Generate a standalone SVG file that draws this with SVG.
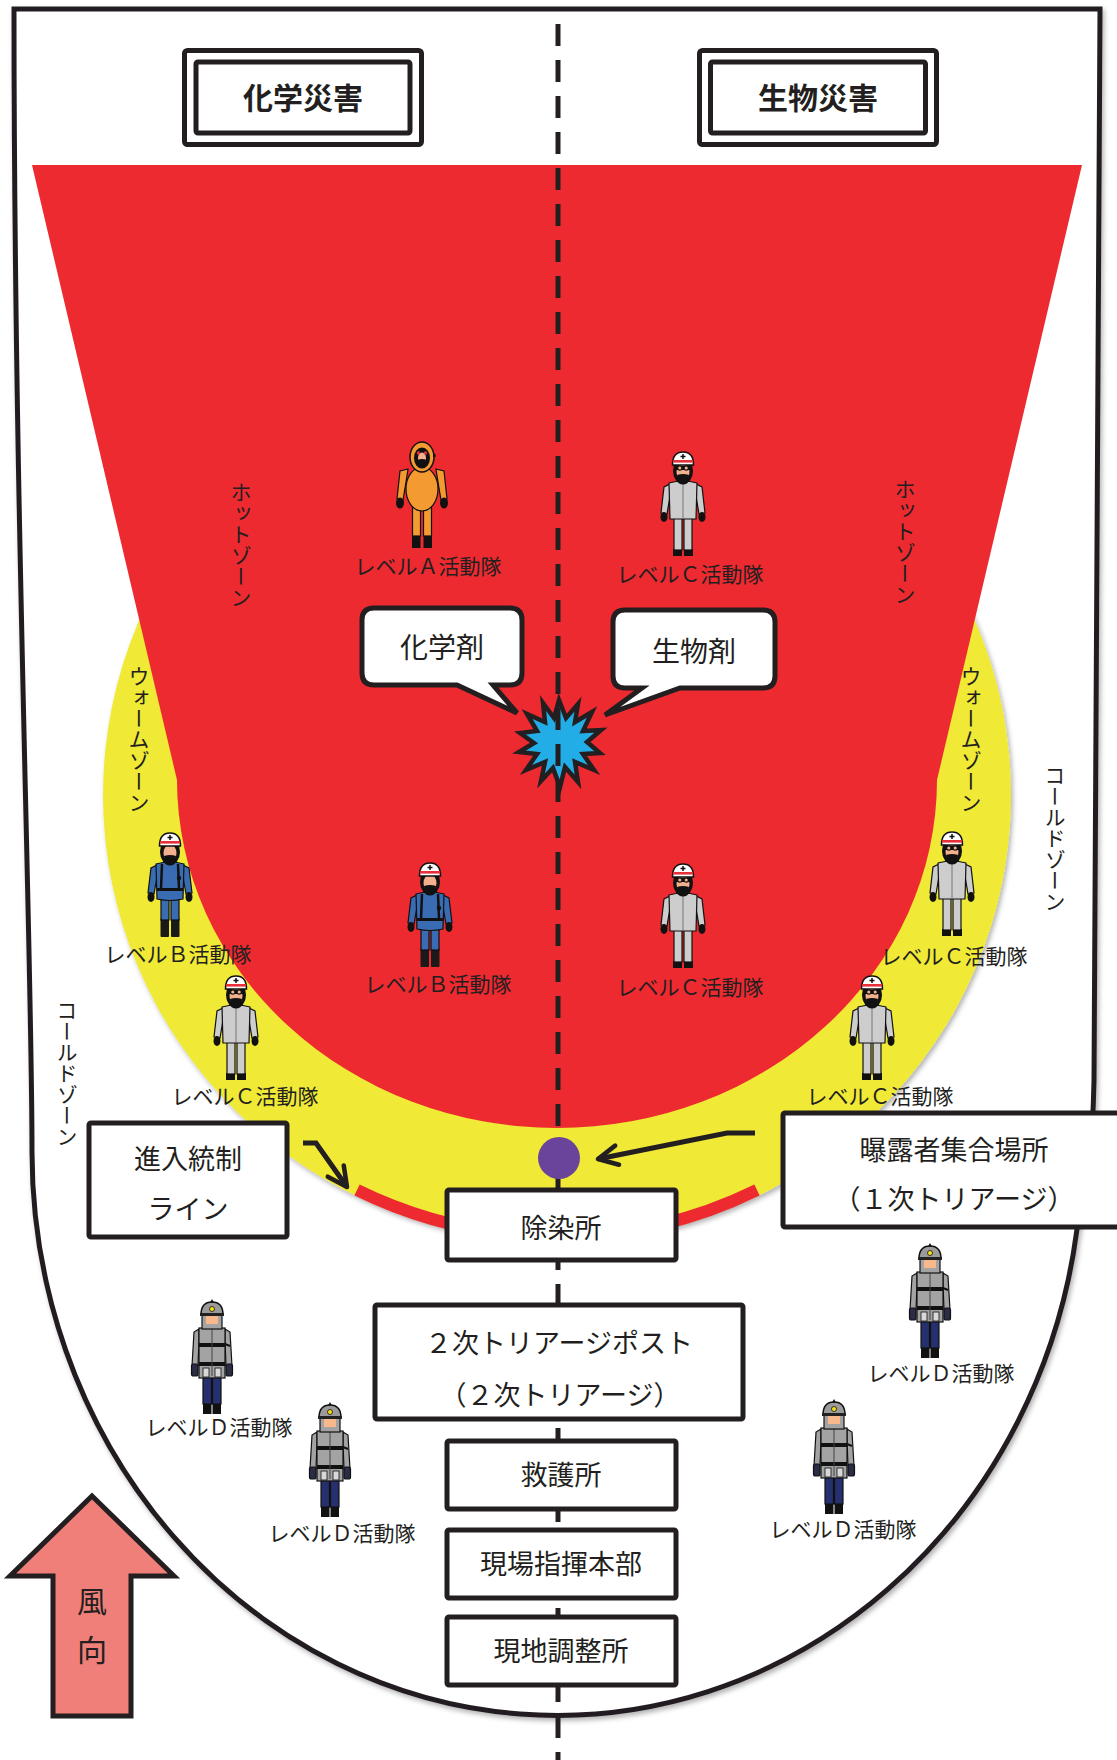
<svg xmlns="http://www.w3.org/2000/svg" xmlns:xlink="http://www.w3.org/1999/xlink" width="1117" height="1760" viewBox="0 0 1117 1760">
  <style>
    .ink { fill: none; stroke: #231f20; stroke-width: 5; }
    .box { fill: #ffffff; stroke: #231f20; stroke-width: 5; }
    .jp { font-family: "Noto Sans CJK JP", "Liberation Sans", sans-serif; fill: #231f20; }
    .boxtxt { font-size: 27px; text-anchor: middle; }
    .title { font-size: 30px; font-weight: 700; text-anchor: middle; }
    .lbl { font-size: 21px; text-anchor: middle; }
    .zone { font-size: 21px; writing-mode: vertical-rl; }
    .callout { font-size: 28px; text-anchor: middle; }
    .ol { stroke: #111111; stroke-width: 1.2; }
  </style>
  <defs>
    <filter id="soft" x="-5%" y="-5%" width="110%" height="110%">
      <feDropShadow dx="2" dy="3" stdDeviation="2.5" flood-color="#000000" flood-opacity="0.3"/>
    </filter>
    <marker id="chev" viewBox="0 0 24 24" refX="21" refY="12" markerWidth="26" markerHeight="26" markerUnits="userSpaceOnUse" orient="auto">
      <path d="M3,3 L21,12 L3,21" fill="none" stroke="#231f20" stroke-width="4.2" stroke-linecap="round" stroke-linejoin="round"/>
    </marker>

    <!-- helmeted head with respirator, used by level B and C crews -->
    <g id="headR">
      <ellipse cx="0" cy="19" rx="10" ry="13" fill="#111"/>
      <ellipse cx="0" cy="20" rx="6.5" ry="8.5" fill="#f2b08c"/>
      <path d="M-6,23 Q0,21 6,23 L4.5,31 Q0,34 -4.5,31 Z" fill="#111"/>
      <path d="M-10.5,13 Q-10.5,0 0,0 Q10.5,0 10.5,13 Z" fill="#fff" stroke="#111" stroke-width="1.5"/>
      <rect x="-10" y="8" width="20" height="2.6" fill="#e8303a"/>
      <path d="M0,2 V7 M-2.5,4.5 H2.5" stroke="#111" stroke-width="1.5"/>
    </g>

    <!-- level A: encapsulated orange suit -->
    <g id="figA">
      <rect x="-10" y="92" width="8.5" height="14" fill="#111"/>
      <rect x="1.5" y="92" width="8.5" height="14" fill="#111"/>
      <rect x="-9.5" y="64" width="8" height="30" fill="#f39a31" class="ol"/>
      <rect x="1.5" y="64" width="8" height="30" fill="#f39a31" class="ol"/>
      <path d="M-14,27 L-22,29 L-25,57 L-19,58 L-16,40 Z" fill="#f39a31" class="ol"/>
      <path d="M14,27 L22,29 L25,57 L19,58 L16,40 Z" fill="#f39a31" class="ol"/>
      <ellipse cx="-22" cy="61" rx="4" ry="5.5" fill="#111"/>
      <ellipse cx="22" cy="61" rx="4" ry="5.5" fill="#111"/>
      <ellipse cx="0" cy="47" rx="16" ry="22" fill="#f39a31" class="ol"/>
      <ellipse cx="0" cy="15" rx="12" ry="15" fill="#f39a31" stroke="#111" stroke-width="1.5"/>
      <ellipse cx="0" cy="16" rx="8" ry="10.5" fill="#111"/>
      <ellipse cx="0" cy="16" rx="4" ry="5.5" fill="#f2b08c"/>
      <path d="M-4.5,18 Q0,16 4.5,18 L3,25 Q0,27 -3,25 Z" fill="#111"/>
      <circle cx="-3.5" cy="11" r="1.7" fill="#e8303a"/>
      <circle cx="3.5" cy="11" r="1.7" fill="#e8303a"/>
      <rect x="11" y="12" width="2.5" height="3" fill="#111"/>
    </g>

    <!-- level B: blue suit with breathing apparatus -->
    <g id="figB">
      <rect x="-9.5" y="85" width="8.5" height="19" rx="1" fill="#1a1a1a"/>
      <rect x="1" y="85" width="8.5" height="19" rx="1" fill="#1a1a1a"/>
      <rect x="-9" y="64" width="8" height="23" fill="#3a6cb4" class="ol"/>
      <rect x="1" y="64" width="8" height="23" fill="#3a6cb4" class="ol"/>
      <path d="M-13,32 L-19,35 L-22,60 L-16,61 L-13,44 Z" fill="#3a6cb4" class="ol"/>
      <path d="M13,32 L19,35 L22,60 L16,61 L13,44 Z" fill="#3a6cb4" class="ol"/>
      <ellipse cx="-19" cy="64" rx="3.5" ry="5" fill="#111"/>
      <ellipse cx="19" cy="64" rx="3.5" ry="5" fill="#111"/>
      <path d="M-14,31 Q0,27 14,31 L13,66 Q0,69 -13,66 Z" fill="#3a6cb4" class="ol"/>
      <path d="M-8,31 L-9,56 M8,31 L9,56" stroke="#111" stroke-width="2.5"/>
      <rect x="-13" y="55" width="26" height="3" fill="#111"/>
      <circle cx="9" cy="45" r="2.2" fill="#111"/>
      <use href="#headR"/>
    </g>

    <!-- level C: grey protective suit with goggles -->
    <g id="figC">
      <rect x="-10" y="97" width="9" height="7" fill="#111"/>
      <rect x="1" y="97" width="9" height="7" fill="#111"/>
      <rect x="-9" y="65" width="8" height="33" fill="#cdcdcd" class="ol"/>
      <rect x="1" y="65" width="8" height="33" fill="#cdcdcd" class="ol"/>
      <path d="M-13,32 L-19,35 L-22,61 L-16,62 L-13,44 Z" fill="#cdcdcd" class="ol"/>
      <path d="M13,32 L19,35 L22,61 L16,62 L13,44 Z" fill="#cdcdcd" class="ol"/>
      <ellipse cx="-19" cy="65" rx="3.5" ry="5" fill="#111"/>
      <ellipse cx="19" cy="65" rx="3.5" ry="5" fill="#111"/>
      <path d="M-14,31 Q0,27 14,31 L13,67 H-13 Z" fill="#cdcdcd" class="ol"/>
      <path d="M0,32 V66" stroke="#777" stroke-width="1"/>
      <use href="#headR"/>
      <rect x="-7" y="14" width="14" height="4" fill="#111"/>
      <circle cx="-3.2" cy="16" r="2.2" fill="#f2b08c" stroke="#111" stroke-width="1.2"/>
      <circle cx="3.2" cy="16" r="2.2" fill="#f2b08c" stroke="#111" stroke-width="1.2"/>
    </g>

    <!-- level D: turnout gear -->
    <g id="figD">
      <rect x="-9" y="103" width="8.5" height="11" fill="#111"/>
      <rect x="0.5" y="103" width="8.5" height="11" fill="#111"/>
      <rect x="-9" y="76" width="8.5" height="28" fill="#26306e" class="ol"/>
      <rect x="0.5" y="76" width="8.5" height="28" fill="#26306e" class="ol"/>
      <path d="M-13,29 L-18,32 L-20,66 L-14,66 L-13,40 Z" fill="#a3a3a3" class="ol"/>
      <path d="M13,29 L18,32 L20,66 L14,66 L13,40 Z" fill="#a3a3a3" class="ol"/>
      <rect x="-20.5" y="64" width="6.5" height="12" rx="2" fill="#2a2d45" class="ol"/>
      <rect x="14" y="64" width="6.5" height="12" rx="2" fill="#2a2d45" class="ol"/>
      <rect x="-13" y="28" width="26" height="50" fill="#a3a3a3" class="ol"/>
      <rect x="-13" y="43" width="26" height="4" fill="#111"/>
      <rect x="-13" y="62" width="26" height="4" fill="#111"/>
      <path d="M0,28 V76" stroke="#444" stroke-width="1"/>
      <rect x="-9" y="68" width="6" height="9" fill="#d8d8d8" stroke="#111" stroke-width="0.8"/>
      <rect x="3" y="68" width="6" height="9" fill="#d8d8d8" stroke="#111" stroke-width="0.8"/>
      <path d="M13,44 L18,46" stroke="#111" stroke-width="2"/>
      <rect x="-10" y="14" width="20" height="15" fill="#a3a3a3" class="ol"/>
      <rect x="-6" y="15" width="12" height="9" fill="#f7b98b"/>
      <path d="M-11,15 Q-11,2 0,2 Q11,2 11,15 Z" fill="#9b9b9b" stroke="#111" stroke-width="1.5"/>
      <path d="M-2,2.5 L0,-1 L2,2.5 Z" fill="#111"/>
      <rect x="-12" y="13" width="24" height="3" fill="#222"/>
      <circle cx="0" cy="9" r="2.5" fill="#f6e11e" stroke="#111" stroke-width="0.8"/>
    </g>
  </defs>

  <rect width="1117" height="1760" fill="#ffffff"/>

  <!-- outer boundary of the area (cold zone) -->
  <g id="cold-zone">
    <path d="M14,9 H1100 C1100,500 1095,900 1094,1080 Q1092,1180 1077,1229 A525,564 0 0 1 32,1150 C32,950 14,500 14,9 Z" fill="#ffffff" stroke="#231f20" stroke-width="5" filter="url(#soft)"/>
  </g>

  <!-- warm zone -->
  <g id="warm-zone">
    <ellipse cx="557" cy="795" rx="454" ry="447" fill="#f0e936" filter="url(#soft)"/>
  </g>

  <!-- hot zone -->
  <g id="hot-zone">
    <path d="M32,165 H1082 L937,780 A380,348 0 0 1 177,780 Z" fill="#ed2a30"/>
  </g>

  <!-- entry control line along the edge of the warm zone -->
  <g id="entry-line">
    <path d="M357,1190 A448,441 0 0 0 757,1190" fill="none" stroke="#ed2a30" stroke-width="12"/>
  </g>

  <!-- zone names -->
  <g id="zone-labels" class="jp">
    <text class="jp zone" x="241" y="482">ホットゾーン</text>
    <text class="jp zone" x="905" y="479">ホットゾーン</text>
    <text class="jp zone" x="139" y="666">ウォームゾーン</text>
    <text class="jp zone" x="971" y="666">ウォームゾーン</text>
    <text class="jp zone" x="1055" y="765">コールドゾーン</text>
    <text class="jp zone" x="67" y="1000">コールドゾーン</text>
  </g>

  <!-- disaster type headings -->
  <g id="title-chem">
    <rect x="184.5" y="50.5" width="237" height="94" rx="3" class="box"/>
    <rect x="196" y="62" width="214" height="71" rx="2" class="box"/>
    <text class="jp title" x="303" y="109">化学災害</text>
  </g>
  <g id="title-bio">
    <rect x="699.5" y="50.5" width="237" height="94" rx="3" class="box"/>
    <rect x="710.5" y="62" width="215" height="71" rx="2" class="box"/>
    <text class="jp title" x="818" y="109">生物災害</text>
  </g>

  <!-- response teams -->
  <g id="team-a-hot">
    <use href="#figA" x="422" y="442"/>
    <text class="jp lbl" x="428" y="574">レベルＡ活動隊</text>
  </g>
  <g id="team-c-hot-top">
    <use href="#figC" x="683" y="452"/>
    <text class="jp lbl" x="690" y="582">レベルＣ活動隊</text>
  </g>
  <g id="team-b-warm">
    <use href="#figB" x="170" y="833"/>
    <text class="jp lbl" x="178" y="962">レベルＢ活動隊</text>
  </g>
  <g id="team-b-hot">
    <use href="#figB" x="430" y="863"/>
    <text class="jp lbl" x="438" y="992">レベルＢ活動隊</text>
  </g>
  <g id="team-c-hot">
    <use href="#figC" x="683" y="864"/>
    <text class="jp lbl" x="690" y="995">レベルＣ活動隊</text>
  </g>
  <g id="team-c-warm-left">
    <use href="#figC" x="236" y="976"/>
    <text class="jp lbl" x="245" y="1104">レベルＣ活動隊</text>
  </g>
  <g id="team-c-warm-right-upper">
    <use href="#figC" x="952" y="832"/>
    <text class="jp lbl" x="954" y="964">レベルＣ活動隊</text>
  </g>
  <g id="team-c-warm-right-lower">
    <use href="#figC" x="872" y="976"/>
    <text class="jp lbl" x="880" y="1104">レベルＣ活動隊</text>
  </g>
  <g id="team-d-1">
    <use href="#figD" x="212" y="1300"/>
    <text class="jp lbl" x="219" y="1435">レベルＤ活動隊</text>
  </g>
  <g id="team-d-2">
    <use href="#figD" x="330" y="1403"/>
    <text class="jp lbl" x="342" y="1541">レベルＤ活動隊</text>
  </g>
  <g id="team-d-3">
    <use href="#figD" x="930" y="1244"/>
    <text class="jp lbl" x="941" y="1381">レベルＤ活動隊</text>
  </g>
  <g id="team-d-4">
    <use href="#figD" x="834" y="1400"/>
    <text class="jp lbl" x="843" y="1537">レベルＤ活動隊</text>
  </g>

  <!-- agent callouts -->
  <g id="callout-chem">
    <path d="M374,608 H510 Q522,608 522,620 V673 Q522,685 510,685 H493 L517,713 L457,685 H374 Q362,685 362,673 V620 Q362,608 374,608 Z" fill="#ffffff" stroke="#231f20" stroke-width="5" stroke-linejoin="miter"/>
    <text class="jp callout" x="442" y="658">化学剤</text>
  </g>
  <g id="callout-bio">
    <path d="M625,610 H763 Q775,610 775,622 V676 Q775,688 763,688 H680 L605,715 L642,688 H625 Q613,688 613,676 V622 Q613,610 625,610 Z" fill="#ffffff" stroke="#231f20" stroke-width="5" stroke-linejoin="miter"/>
    <text class="jp callout" x="694" y="662">生物剤</text>
  </g>

  <!-- release point -->
  <g id="release-point">
    <polygon points="559,700 566,718 578,704 575,722 592,712 583,731 601,730 587,742 600,753 583,754 594,770 575,762 578,782 565,767 560,787 553,768 541,781 545,762 526,770 537,754 519,752 534,743 520,733 537,731 527,714 545,722 543,703 554,718" fill="#22ade6" stroke="#231f20" stroke-width="4.5" stroke-linejoin="miter"/>
  </g>

  <!-- connectors -->
  <g id="connectors">
    <line x1="558" y1="24" x2="558" y2="1760" stroke="#231f20" stroke-width="5" stroke-dasharray="22 14"/>
    <path class="ink" d="M755,1133 H727 L598,1159" marker-end="url(#chev)"/>
    <path class="ink" d="M303,1143 H316 L347,1187" marker-end="url(#chev)"/>
  </g>

  <!-- exposed persons gathering point -->
  <g id="gathering-point">
    <circle cx="559" cy="1158" r="21" fill="#6a449b"/>
  </g>

  <g id="box-entry-control">
    <rect x="89" y="1123" width="198" height="114" rx="2" class="box"/>
    <text class="jp boxtxt" x="188" y="1169">進入統制</text>
    <text class="jp boxtxt" x="188" y="1219">ライン</text>
  </g>
  <g id="box-gathering">
    <rect x="783" y="1113" width="345" height="114" rx="2" class="box"/>
    <text class="jp boxtxt" x="954" y="1160">曝露者集合場所</text>
    <text class="jp boxtxt" x="954" y="1209">（１次トリアージ）</text>
  </g>
  <g id="box-decon">
    <rect x="447" y="1190" width="229" height="70" rx="2" class="box"/>
    <text class="jp boxtxt" x="561" y="1238">除染所</text>
  </g>
  <g id="box-triage2">
    <rect x="375" y="1305" width="368" height="114" rx="2" class="box"/>
    <text class="jp boxtxt" x="559" y="1353">２次トリアージポスト</text>
    <text class="jp boxtxt" x="560" y="1405">（２次トリアージ）</text>
  </g>
  <g id="box-aid">
    <rect x="447" y="1441" width="229" height="68" rx="2" class="box"/>
    <text class="jp boxtxt" x="561" y="1485">救護所</text>
  </g>
  <g id="box-command">
    <rect x="447" y="1530" width="229" height="68" rx="2" class="box"/>
    <text class="jp boxtxt" x="561" y="1574">現場指揮本部</text>
  </g>
  <g id="box-coordination">
    <rect x="447" y="1617" width="229" height="68" rx="2" class="box"/>
    <text class="jp boxtxt" x="561" y="1661">現地調整所</text>
  </g>

  <!-- wind direction -->
  <g id="wind-direction">
    <polygon points="92,1496 174,1576 131,1576 131,1716 53,1716 53,1576 10,1576" fill="#f07f79" stroke="#231f20" stroke-width="5" stroke-linejoin="miter"/>
    <text class="jp" x="92" y="1612" font-size="30" text-anchor="middle">風</text>
    <text class="jp" x="92" y="1661" font-size="30" text-anchor="middle">向</text>
  </g>
</svg>
